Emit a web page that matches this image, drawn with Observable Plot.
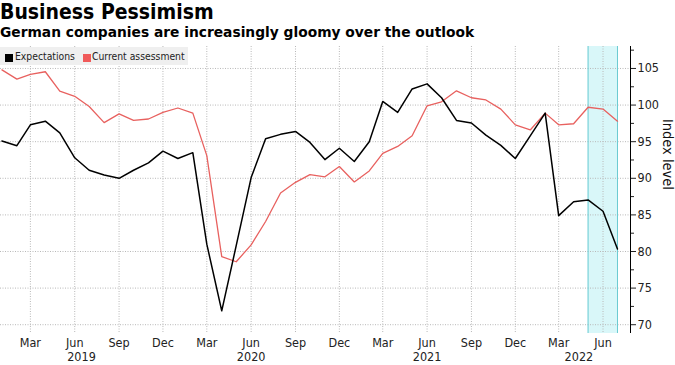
<!DOCTYPE html>
<html>
<head>
<meta charset="utf-8">
<script src="https://cdn.jsdelivr.net/npm/d3@7"></script>
<script src="https://cdn.jsdelivr.net/npm/@observablehq/plot@0.6"></script>
<style>
  html, body { margin: 0; padding: 0; background: #fff; }
  #wrap { position: relative; width: 675px; height: 365px; overflow: hidden; background: #fff; }
  .cond { font-family: "DejaVu Sans Condensed", "Liberation Sans", sans-serif; font-stretch: condensed; }
  #title { position: absolute; left: 0; top: 2px; font-size: 21px; font-weight: bold; line-height: 21px; color: #000; white-space: nowrap; }
  #subtitle { position: absolute; left: 0; top: 25px; font-family: "DejaVu Sans", sans-serif; font-size: 13.8px; font-weight: bold; line-height: 14px; color: #000; white-space: nowrap; }
  #chart { position: absolute; left: 0; top: 44px; }
  #legend { position: absolute; left: 0; top: 47px; width: 188px; height: 18px; background: #efefef; font-size: 10.3px; color: #222; z-index: 2; }
  #legend .item { position: absolute; top: 0; height: 18px; line-height: 18px; white-space: nowrap; }
  #legend .sw { position: absolute; top: 7px; width: 8px; height: 8px; }
</style>
</head>
<body>
<div id="wrap">
  <div id="title" class="cond"></div>
  <div id="subtitle"></div>
  <div id="legend" class="cond"></div>
  <div id="chart"></div>
</div>
<script>
const titleText = "Business Pessimism";
const subtitleText = "German companies are increasingly gloomy over the outlook";
const seriesNames = ["Expectations", "Current assessment"];
const seriesColors = ["#000000", "#e8615f"];
const yLabel = "Index level";

// Monthly values, Jan 2019 .. Jul 2022
const firstMonth = "2019-01-01";
const expectations = [
  95.1, 94.45, 97.3, 97.8, 96.2, 92.8, 91.1, 90.45, 90.0, 91.1, 92.1, 93.7,
  92.7, 93.5, 81.0, 71.9, 80.8, 90.1, 95.4, 96.0, 96.4, 94.9, 92.55, 94.1,
  92.3, 95.0, 100.5, 99.0, 102.2, 102.9, 101.0, 97.9, 97.55, 95.9, 94.5, 92.7,
  95.8, 98.9, 84.9, 86.8, 87.05, 85.5, 80.35
];
const currentAssessment = [
  104.8, 103.55, 104.2, 104.55, 101.9, 101.2, 99.8, 97.6, 98.8, 97.9, 98.1, 99.0,
  99.6, 98.9, 93.1, 79.3, 78.6, 80.9, 84.1, 88.0, 89.45, 90.5, 90.2, 91.6,
  89.5, 91.0, 93.4, 94.35, 95.8, 99.9, 100.45, 101.95, 101.0, 100.7, 99.45, 97.3,
  96.6, 98.9, 97.3, 97.45, 99.7, 99.45, 97.8
];

// Axis ticks and labels
const monthTicks = ["2019-03-01","2019-06-01","2019-09-01","2019-12-01",
  "2020-03-01","2020-06-01","2020-09-01","2020-12-01",
  "2021-03-01","2021-06-01","2021-09-01","2021-12-01",
  "2022-03-01","2022-06-01"];
const yearLabels = ["2019", "2020", "2021", "2022"];
const yearLabelDates = ["2019-06-15", "2020-06-01", "2021-06-01", "2022-04-12"];
const yMajorTicks = [70, 75, 80, 85, 90, 95, 100, 105];
const yMinorTicks = [72.5, 77.5, 82.5, 87.5, 92.5, 97.5, 102.5, 107.5];
const yDomain = [68.8, 108];
const xDomain = ["2018-12-29", "2022-07-28"];
const shadeStart = "2022-05-01";
const shadeEnd = "2022-07-01";

const parse = (s) => new Date(s + (s.length === 10 ? "T00:00:00Z" : ""));
const months = d3.utcMonth.range(parse(firstMonth), d3.utcMonth.offset(parse(firstMonth), expectations.length));
const data = [];
months.forEach((m, i) => {
  data.push({date: m, value: expectations[i], series: seriesNames[0]});
  data.push({date: m, value: currentAssessment[i], series: seriesNames[1]});
});
const mTicks = monthTicks.map(parse);
const yearMap = new Map(yearLabelDates.map((d, i) => [+parse(d), yearLabels[i]]));

document.getElementById("title").textContent = titleText;
document.getElementById("subtitle").textContent = subtitleText;

const legend = document.getElementById("legend");
const legendPos = [[5, 15], [83, 92]];
seriesNames.forEach((name, i) => {
  const sw = document.createElement("div");
  sw.className = "sw";
  sw.style.left = legendPos[i][0] + "px";
  sw.style.background = i === 0 ? "#000" : "#f05a5a";
  legend.appendChild(sw);
  const it = document.createElement("div");
  it.className = "item";
  it.style.left = legendPos[i][1] + "px";
  it.textContent = name;
  legend.appendChild(it);
});

const fontCond = '"DejaVu Sans Condensed", "Liberation Sans", sans-serif';

const plot = Plot.plot({
  width: 675,
  height: 321,
  marginTop: 2,
  marginBottom: 32,
  marginLeft: 0,
  marginRight: 45,
  style: {fontFamily: fontCond, fontSize: "12px", color: "#222", background: "transparent", fontStretch: "condensed"},
  x: {type: "utc", domain: xDomain.map(parse)},
  y: {domain: yDomain},
  color: {domain: seriesNames, range: seriesColors},
  marks: [
    Plot.rect([{a: parse(shadeStart), b: parse(shadeEnd)}], {x1: "a", x2: "b", fill: "#d9f7f9"}),
    Plot.gridX(mTicks, {stroke: "#b8b8b8", strokeOpacity: 1, strokeDasharray: "1,1.5"}),
    Plot.gridY(yMajorTicks, {stroke: "#b8b8b8", strokeOpacity: 1, strokeDasharray: "1,1.5"}),
    Plot.ruleX([parse(shadeStart), parse(shadeEnd)], {stroke: "#6ccbd2", strokeWidth: 1}),
    Plot.line(data.filter(d => d.series === seriesNames[1]), {x: "date", y: "value", stroke: seriesColors[1], strokeWidth: 1.3}),
    Plot.line(data.filter(d => d.series === seriesNames[0]), {x: "date", y: "value", stroke: seriesColors[0], strokeWidth: 1.5}),
    Plot.ruleX([parse(xDomain[1])], {stroke: "#000", strokeWidth: 1}),
    Plot.axisY({anchor: "right", ticks: yMajorTicks, tickSize: 5, tickPadding: 2, label: null, fontSize: 12.5, tickFormat: d => String(d)}),
    Plot.axisY({anchor: "right", ticks: yMinorTicks, tickSize: 3, label: null, tickFormat: () => ""}),
    Plot.axisX({ticks: mTicks, tickSize: 0, tickPadding: 5, tickFormat: d3.utcFormat("%b"), label: null, fontSize: 12.5}),
    Plot.axisX({ticks: yearLabelDates.map(parse), tickSize: 0, tickPadding: 19, tickFormat: d => yearMap.get(+d), label: null, fontSize: 12.5}),
    Plot.text([yLabel], {frameAnchor: "right", dx: 37, rotate: 90, fontSize: 14.5, fill: "#111"})
  ]
});
document.getElementById("chart").appendChild(plot);
</script>
</body>
</html>
